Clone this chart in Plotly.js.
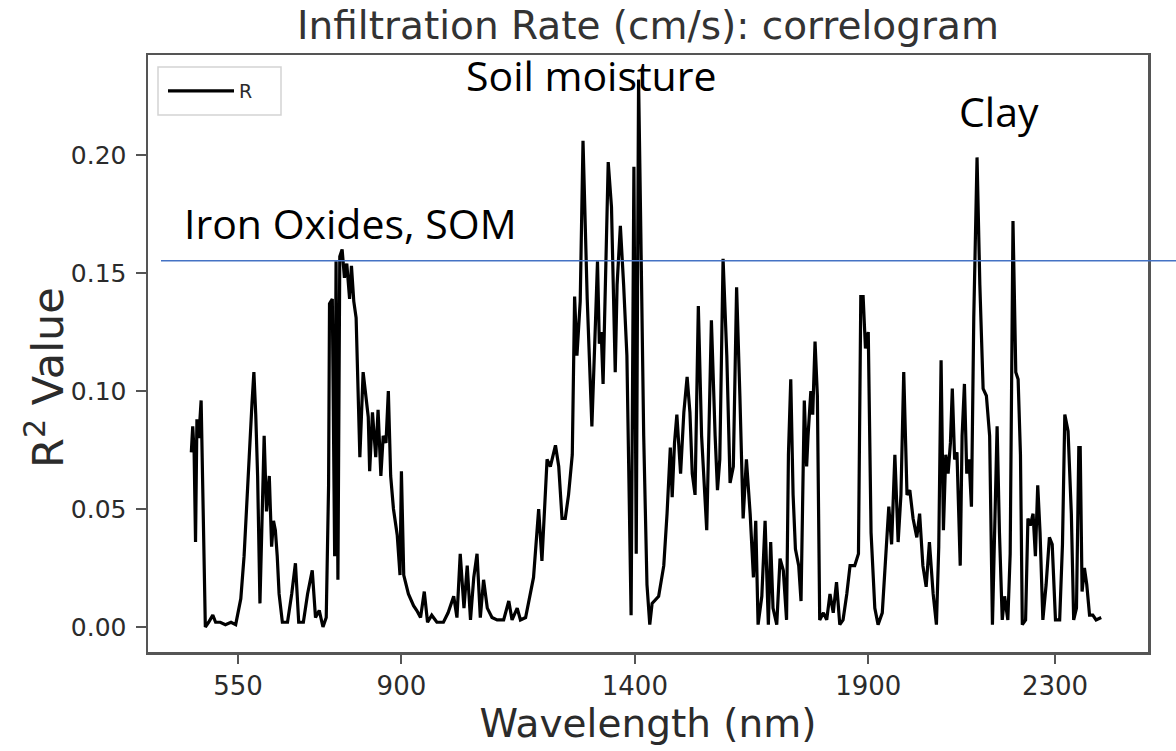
<!DOCTYPE html>
<html>
<head>
<meta charset="utf-8">
<script src="https://cdn.plot.ly/plotly-3.0.1.min.js"></script>
<style>
html, body { margin: 0; padding: 0; background: #ffffff; }
#chart { width: 1176px; height: 751px; }
</style>
</head>
<body>
<div id="chart"></div>
<script>
// ---- data ----
const wavelength = [
  450, 453, 456, 459, 462, 466, 471, 475, 480, 487, 496, 502, 512, 523, 535, 545, 548, 556, 563, 569,
  574, 580, 584, 588, 592, 597, 601, 606, 611, 617, 622, 626, 630, 634, 638, 645, 656, 665, 673, 677,
  680, 690, 699, 709, 716, 724, 732, 739, 744, 746, 752, 757, 760, 764, 768, 773, 778, 783, 789, 793,
  798, 803, 811, 818, 824, 829, 832, 838, 845, 850, 856, 861, 867, 872, 877, 883, 891, 897, 900, 905,
  915, 926, 933, 941, 949, 956, 965, 976, 990, 1000, 1012, 1019, 1026, 1034, 1041, 1048, 1055, 1062, 1069, 1076,
  1084, 1094, 1105, 1119, 1130, 1137, 1148, 1155, 1166, 1173, 1183, 1194, 1201, 1212, 1219, 1230, 1237, 1244, 1251, 1258,
  1266, 1271, 1276, 1283, 1289, 1298, 1308, 1316, 1320, 1324, 1328, 1332, 1337, 1343, 1350, 1358, 1362, 1369, 1376, 1383,
  1392, 1398, 1403, 1408, 1413, 1419, 1426, 1432, 1437, 1451, 1462, 1469, 1476, 1480, 1485, 1490, 1498, 1505, 1512, 1518,
  1523, 1529, 1536, 1543, 1554, 1561, 1564, 1572, 1577, 1582, 1589, 1597, 1604, 1611, 1618, 1625, 1632, 1639, 1647, 1654,
  1659, 1664, 1672, 1679, 1686, 1691, 1696, 1704, 1711, 1718, 1725, 1729, 1734, 1739, 1744, 1751, 1756, 1763, 1768, 1771,
  1777, 1781, 1786, 1791, 1796, 1804, 1811, 1818, 1825, 1832, 1839, 1846, 1854, 1861, 1871, 1879, 1884, 1889, 1894, 1900,
  1906, 1914, 1921, 1930, 1937, 1944, 1950, 1957, 1964, 1970, 1976, 1983, 1989, 1996, 2004, 2010, 2017, 2024, 2031, 2039,
  2046, 2051, 2056, 2061, 2066, 2071, 2076, 2080, 2085, 2090, 2097, 2101, 2106, 2111, 2116, 2121, 2126, 2133, 2139, 2146,
  2153, 2160, 2166, 2171, 2176, 2181, 2187, 2192, 2199, 2204, 2210, 2216, 2221, 2226, 2230, 2237, 2242, 2247, 2253, 2258,
  2263, 2268, 2274, 2281, 2288, 2294, 2301, 2310, 2316, 2321, 2328, 2335, 2340, 2346, 2351, 2354, 2358, 2363, 2368, 2374,
  2381, 2388, 2399
];
const r2 = [
  0.074, 0.085, 0.074, 0.036, 0.088, 0.080, 0.096, 0.055, 0.000, 0.002, 0.005, 0.002, 0.002, 0.001, 0.002, 0.001, 0.004, 0.012, 0.030, 0.050,
  0.072, 0.095, 0.108, 0.090, 0.064, 0.010, 0.040, 0.081, 0.049, 0.064, 0.034, 0.045, 0.041, 0.030, 0.014, 0.002, 0.002, 0.014, 0.027, 0.012,
  0.002, 0.002, 0.014, 0.024, 0.004, 0.007, 0.000, 0.004, 0.060, 0.137, 0.139, 0.030, 0.155, 0.020, 0.157, 0.160, 0.148, 0.154, 0.139, 0.153,
  0.138, 0.131, 0.072, 0.108, 0.098, 0.089, 0.066, 0.091, 0.072, 0.092, 0.064, 0.081, 0.078, 0.100, 0.064, 0.050, 0.039, 0.022, 0.066, 0.022,
  0.014, 0.009, 0.007, 0.004, 0.015, 0.002, 0.005, 0.002, 0.002, 0.006, 0.013, 0.004, 0.031, 0.008, 0.026, 0.003, 0.021, 0.031, 0.004, 0.020,
  0.008, 0.004, 0.003, 0.003, 0.011, 0.003, 0.008, 0.003, 0.004, 0.011, 0.021, 0.050, 0.028, 0.071, 0.068, 0.077, 0.068, 0.046, 0.046, 0.056,
  0.073, 0.140, 0.115, 0.138, 0.206, 0.139, 0.085, 0.131, 0.155, 0.120, 0.125, 0.103, 0.150, 0.197, 0.178, 0.108, 0.145, 0.170, 0.145, 0.115,
  0.005, 0.195, 0.031, 0.232, 0.165, 0.081, 0.018, 0.001, 0.010, 0.013, 0.026, 0.048, 0.076, 0.055, 0.078, 0.090, 0.065, 0.091, 0.106, 0.091,
  0.065, 0.056, 0.136, 0.081, 0.041, 0.098, 0.130, 0.081, 0.058, 0.071, 0.156, 0.115, 0.061, 0.068, 0.144, 0.098, 0.046, 0.071, 0.048, 0.021,
  0.045, 0.001, 0.013, 0.045, 0.001, 0.036, 0.008, 0.001, 0.029, 0.024, 0.003, 0.073, 0.105, 0.056, 0.033, 0.026, 0.011, 0.096, 0.068, 0.081,
  0.100, 0.090, 0.121, 0.098, 0.003, 0.006, 0.003, 0.014, 0.006, 0.019, 0.001, 0.003, 0.014, 0.026, 0.026, 0.031, 0.140, 0.140, 0.118, 0.125,
  0.040, 0.008, 0.001, 0.006, 0.031, 0.051, 0.035, 0.073, 0.036, 0.056, 0.108, 0.056, 0.058, 0.046, 0.038, 0.048, 0.026, 0.017, 0.036, 0.014,
  0.001, 0.034, 0.113, 0.041, 0.073, 0.065, 0.078, 0.101, 0.071, 0.074, 0.026, 0.081, 0.103, 0.065, 0.071, 0.051, 0.131, 0.199, 0.145, 0.101,
  0.098, 0.081, 0.001, 0.048, 0.085, 0.040, 0.003, 0.013, 0.003, 0.031, 0.172, 0.108, 0.105, 0.073, 0.001, 0.003, 0.046, 0.043, 0.048, 0.030,
  0.060, 0.040, 0.003, 0.018, 0.038, 0.035, 0.003, 0.003, 0.035, 0.090, 0.083, 0.048, 0.003, 0.008, 0.076, 0.076, 0.015, 0.025, 0.018, 0.005,
  0.005, 0.003, 0.004
];
const seriesName = 'R';
const xTickVals = [550, 900, 1400, 1900, 2300];
const xTickText = ['550', '900', '1400', '1900', '2300'];
const yTickVals = [0.00, 0.05, 0.10, 0.15, 0.20];
const yTickText = ['0.00', '0.05', '0.10', '0.15', '0.20'];
const chartTitle = 'Infiltration Rate (cm/s): correlogram';
const xTitle = 'Wavelength (nm)';
const yTitle = 'R<sup>2</sup> Value';
const bandLabels = ['Soil moisture', 'Iron Oxides, SOM', 'Clay'];
const bandLabelX = [1308, 791, 2179];
const bandLabelY = [0.234, 0.1714, 0.2186];
const thresholdValue = 0.1552;

// ---- layout (pixel geometry of the reference) ----
const W = 1176, H = 751;
const M = { l: 148, r: 28, t: 55, b: 99 };
const plotH = H - M.t - M.b;
const plotW = W - M.l - M.r;
const px2paperX = px => (px - M.l) / plotW;
const px2paperY = py => (H - M.b - py) / plotH;
const yRange = [-0.0106, 0.2424];
const threshPaperY = (thresholdValue - yRange[0]) / (yRange[1] - yRange[0]);

const axisColor = '#555555';
const textColor = '#2b2b2b';

const trace = {
  type: 'scatter',
  mode: 'lines',
  x: wavelength,
  y: r2,
  name: seriesName,
  line: { color: '#000000', width: 3.2 },
  hoverinfo: 'x+y'
};

const annotations = bandLabels.map((t, i) => ({
  text: t,
  x: bandLabelX[i],
  y: bandLabelY[i],
  xref: 'x', yref: 'y',
  xanchor: 'center', yanchor: 'middle',
  showarrow: false,
  font: { family: 'Open Sans', size: 41, color: '#000000' }
}));

// y-axis label (placed where the reference draws it)
annotations.push({
  text: yTitle,
  xref: 'paper', yref: 'paper',
  x: px2paperX(45), y: px2paperY(378),
  xanchor: 'center', yanchor: 'middle',
  textangle: -90, showarrow: false,
  font: { family: 'DejaVu Sans', size: 43, color: textColor }
});

const layout = {
  width: W, height: H,
  margin: { l: M.l, r: M.r, t: M.t, b: M.b, pad: 0 },
  paper_bgcolor: '#ffffff',
  plot_bgcolor: '#ffffff',
  font: { family: 'DejaVu Sans', color: textColor },
  title: {
    text: chartTitle,
    font: { family: 'DejaVu Sans', size: 39, color: '#333333' },
    xref: 'paper', x: 0.5, xanchor: 'center',
    yref: 'container', y: 1 - 25 / H, yanchor: 'middle'
  },
  xaxis: {
    range: [357.2, 2499.2],
    tickmode: 'array', tickvals: xTickVals, ticktext: xTickText,
    ticks: 'outside', ticklen: 9, tickwidth: 2, tickcolor: axisColor,
    showline: true, linecolor: axisColor, linewidth: 2.5, mirror: true,
    showgrid: false, zeroline: false,
    tickfont: { family: 'DejaVu Sans', size: 26, color: textColor },
    title: { text: xTitle, font: { family: 'DejaVu Sans', size: 39, color: textColor }, standoff: 6 }
  },
  yaxis: {
    range: yRange,
    tickmode: 'array', tickvals: yTickVals, ticktext: yTickText,
    ticks: 'outside', ticklen: 10, tickwidth: 2, tickcolor: axisColor,
    showline: true, linecolor: axisColor, linewidth: 2.5, mirror: true,
    showgrid: false, zeroline: false,
    ticklabelstandoff: 4,
    tickfont: { family: 'DejaVu Sans', size: 25, color: textColor }
  },
  showlegend: true,
  legend: {
    x: px2paperX(163), y: px2paperY(72), xanchor: 'left', yanchor: 'top',
    bgcolor: 'rgba(0,0,0,0)', borderwidth: 0,
    font: { family: 'DejaVu Sans', size: 19, color: textColor },
    itemwidth: 66
  },
  shapes: [
    {
      type: 'rect', xref: 'paper', yref: 'paper',
      x0: px2paperX(158), x1: px2paperX(281), y0: px2paperY(115), y1: px2paperY(67),
      line: { color: '#d3d3d3', width: 1.5 }, fillcolor: 'rgba(255,255,255,0.8)', layer: 'below'
    },
    {
      type: 'line', xref: 'paper', yref: 'paper',
      x0: px2paperX(161), x1: px2paperX(1176), y0: threshPaperY, y1: threshPaperY,
      line: { color: '#4472C4', width: 1.5 }
    }
  ],
  annotations: annotations
};

Plotly.newPlot('chart', [trace], layout, { displayModeBar: false, staticPlot: true });
</script>
</body>
</html>
